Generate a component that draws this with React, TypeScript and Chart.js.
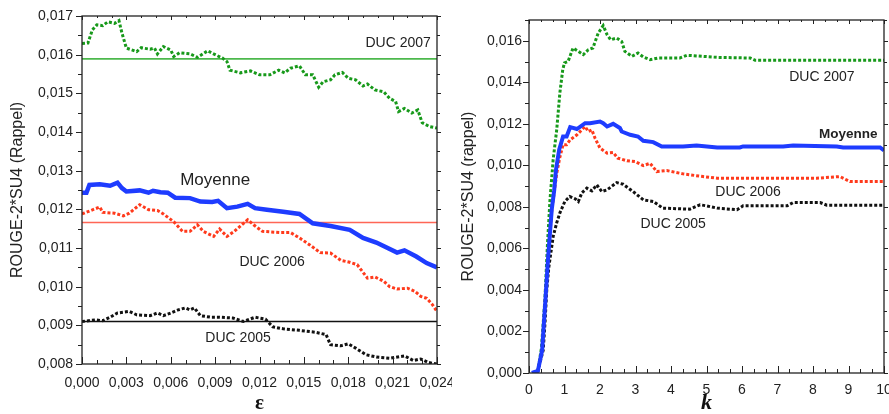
import React, { useEffect, useRef } from "react";
import { Chart, registerables } from "chart.js";

Chart.register(...registerables);

const SANS = '"Liberation Sans", Arial, Helvetica, sans-serif';
const SERIF = '"Liberation Serif", "DejaVu Serif", serif';

// ---------- Left chart (epsilon) ----------
const epsTicks = [0, 0.003, 0.006, 0.009, 0.012, 0.015, 0.018, 0.021, 0.024];
const leftYTicks = [0.008, 0.009, 0.01, 0.011, 0.012, 0.013, 0.014, 0.015, 0.016, 0.017];

const moyenneEps: [number, number][] = [
  [0, 0.01243], [0.0003, 0.01243], [0.0005, 0.01263], [0.0012, 0.01265], [0.0019, 0.01261],
  [0.0024, 0.01269], [0.0027, 0.01255], [0.003, 0.01246], [0.0039, 0.01249], [0.0045, 0.01243],
  [0.0048, 0.01248], [0.0053, 0.01244], [0.0058, 0.01243], [0.0063, 0.0123], [0.0073, 0.01229],
  [0.008, 0.0122], [0.0088, 0.01219], [0.0092, 0.01222], [0.0098, 0.01203], [0.0105, 0.01207],
  [0.0112, 0.01214], [0.0117, 0.01203], [0.0125, 0.01199], [0.0136, 0.01194], [0.0147, 0.01188],
  [0.0156, 0.01164], [0.0168, 0.01157], [0.0181, 0.01147], [0.019, 0.01126], [0.0199, 0.01114],
  [0.0213, 0.01088], [0.0218, 0.01094], [0.0226, 0.01078], [0.0233, 0.01061], [0.024, 0.0105],
];

const duc2007Eps: [number, number][] = [
  [0, 0.01629], [0.0004, 0.0163], [0.0007, 0.01664], [0.001, 0.01677], [0.0014, 0.01675],
  [0.00175, 0.01685], [0.0022, 0.01681], [0.0025, 0.01688], [0.0027, 0.01656], [0.003, 0.01617],
  [0.0037, 0.01608], [0.004, 0.01618], [0.0046, 0.01614], [0.0049, 0.01617], [0.0051, 0.01602],
  [0.0055, 0.01621], [0.006, 0.01612], [0.0062, 0.01595], [0.0066, 0.01605], [0.0073, 0.01602],
  [0.0078, 0.01593], [0.0085, 0.0161], [0.0089, 0.01602], [0.0095, 0.01591], [0.0098, 0.01582],
  [0.01, 0.0156], [0.0107, 0.01553], [0.0114, 0.01558], [0.012, 0.01548], [0.0127, 0.01548],
  [0.0133, 0.0156], [0.0137, 0.01553], [0.0141, 0.01565], [0.0147, 0.01571], [0.0151, 0.01548],
  [0.0156, 0.01548], [0.016, 0.01516], [0.0163, 0.0153], [0.0168, 0.01535], [0.0171, 0.01548],
  [0.0176, 0.01554], [0.018, 0.01539], [0.0185, 0.01535], [0.019, 0.01519], [0.0193, 0.01524],
  [0.0198, 0.01509], [0.0204, 0.01504], [0.0208, 0.01487], [0.0212, 0.01479], [0.0214, 0.01453],
  [0.0218, 0.01461], [0.0223, 0.01449], [0.0227, 0.01457], [0.023, 0.01424], [0.0235, 0.01414],
  [0.024, 0.0141],
];

const duc2006Eps: [number, number][] = [
  [0, 0.01188], [0.0004, 0.01194], [0.0012, 0.01206], [0.0014, 0.01192], [0.0022, 0.0119],
  [0.0028, 0.01183], [0.0032, 0.0119], [0.0039, 0.01212], [0.0045, 0.01199], [0.0051, 0.01197],
  [0.0055, 0.01188], [0.0062, 0.01168], [0.0068, 0.01143], [0.0073, 0.01143], [0.0078, 0.0116],
  [0.0082, 0.01143], [0.0089, 0.0113], [0.0093, 0.01149], [0.0098, 0.0113], [0.0103, 0.01143],
  [0.0112, 0.01173], [0.0116, 0.0116], [0.0122, 0.01143], [0.0134, 0.0114], [0.0141, 0.0114],
  [0.0147, 0.01126], [0.0154, 0.01108], [0.0161, 0.01088], [0.0168, 0.01087], [0.0175, 0.01068],
  [0.0181, 0.01063], [0.0186, 0.01057], [0.0193, 0.01022], [0.0198, 0.01025], [0.0204, 0.01014],
  [0.0208, 0.01], [0.0213, 0.00994], [0.022, 0.00996], [0.0225, 0.00988], [0.0229, 0.00975],
  [0.0233, 0.0097], [0.0237, 0.00953], [0.024, 0.00936],
];

const duc2005Eps: [number, number][] = [
  [0, 0.0091], [0.0009, 0.00914], [0.0014, 0.00912], [0.0019, 0.00921], [0.0024, 0.00932],
  [0.0032, 0.00936], [0.0037, 0.00927], [0.0046, 0.00925], [0.0051, 0.00932], [0.0055, 0.00925],
  [0.006, 0.00932], [0.0065, 0.0094], [0.007, 0.00945], [0.0073, 0.0094], [0.0076, 0.00945],
  [0.008, 0.00925], [0.0087, 0.00921], [0.0093, 0.00921], [0.0102, 0.00919], [0.0109, 0.0091],
  [0.0117, 0.00921], [0.0124, 0.00916], [0.0129, 0.00896], [0.0136, 0.00891], [0.0147, 0.00887],
  [0.0158, 0.00882], [0.0165, 0.00876], [0.0168, 0.0085], [0.0175, 0.00847], [0.018, 0.00852],
  [0.0185, 0.00841], [0.0192, 0.00824], [0.0199, 0.00818], [0.0208, 0.00815], [0.0218, 0.00821],
  [0.0224, 0.00809], [0.0229, 0.00813], [0.0234, 0.00804], [0.024, 0.008],
];

const baselineDuc2007 = 0.01589;
const baselineDuc2006 = 0.01166;
const baselineDuc2005 = 0.0091;

// ---------- Right chart (k) ----------
const kTicks = [0, 1, 2, 3, 4, 5, 6, 7, 8, 9, 10];
const rightYTicks = [0, 0.002, 0.004, 0.006, 0.008, 0.01, 0.012, 0.014, 0.016];

const moyenneK: [number, number][] = [
  [0.08, 0], [0.25, 0.0001], [0.37, 0.0011], [0.45, 0.0032], [0.54, 0.0056], [0.64, 0.00786],
  [0.71, 0.0088], [0.76, 0.00978], [0.85, 0.01075], [0.96, 0.01139], [1.06, 0.01139],
  [1.16, 0.01184], [1.35, 0.01175], [1.58, 0.01203], [1.72, 0.01203], [2.0, 0.01211],
  [2.09, 0.01203], [2.2, 0.01187], [2.37, 0.012], [2.56, 0.0118], [2.61, 0.01163],
  [2.85, 0.01147], [3.07, 0.01139], [3.22, 0.01118], [3.5, 0.01112], [3.74, 0.01091],
  [4.34, 0.01091], [4.72, 0.01096], [5.3, 0.01086], [5.94, 0.01086], [6.03, 0.01091],
  [7.16, 0.01091], [7.44, 0.01096], [8.67, 0.01091], [8.85, 0.01086], [9.89, 0.01086],
  [10, 0.01072],
];

const duc2007K: [number, number][] = [
  [0.1, 0], [0.25, 0.0001], [0.35, 0.0012], [0.45, 0.0036], [0.52, 0.0062], [0.59, 0.0083],
  [0.68, 0.01027], [0.78, 0.01171], [0.87, 0.0135], [0.95, 0.0146], [1.0, 0.01494],
  [1.1, 0.015], [1.24, 0.01565], [1.39, 0.01549], [1.53, 0.01533], [1.67, 0.01557],
  [1.8, 0.01565], [1.95, 0.01637], [2.09, 0.01673], [2.2, 0.01629], [2.3, 0.01605],
  [2.47, 0.01613], [2.61, 0.01597], [2.7, 0.01549], [2.9, 0.01525], [3.07, 0.01541],
  [3.22, 0.01522], [3.41, 0.01509], [3.64, 0.01517], [4.25, 0.01517], [4.45, 0.0153],
  [4.9, 0.01525], [5.3, 0.0152], [6.23, 0.01517], [6.37, 0.01506], [10, 0.01506],
];

const duc2006K: [number, number][] = [
  [0.1, 0], [0.25, 0.0001], [0.37, 0.0011], [0.45, 0.0032], [0.54, 0.0056], [0.64, 0.0078],
  [0.71, 0.0087], [0.78, 0.0096], [0.87, 0.0104], [0.96, 0.011], [1.06, 0.01099],
  [1.16, 0.01123], [1.35, 0.01147], [1.58, 0.01187], [1.67, 0.01163], [1.77, 0.01171],
  [1.86, 0.01131], [2.0, 0.01083], [2.2, 0.01059], [2.37, 0.01062], [2.5, 0.01035],
  [2.76, 0.01022], [2.99, 0.01018], [3.22, 0.00999], [3.41, 0.0101], [3.6, 0.0097],
  [3.88, 0.00975], [4.34, 0.00959], [4.9, 0.00946], [5.3, 0.00938], [8.1, 0.00938],
  [8.76, 0.00946], [9.04, 0.00922], [10, 0.00922],
];

const duc2005K: [number, number][] = [
  [0.1, 0], [0.25, 0.0001], [0.4, 0.0011], [0.45, 0.0024], [0.5, 0.004], [0.56, 0.00512],
  [0.68, 0.00657], [0.78, 0.00723], [0.87, 0.00771], [1.01, 0.00826], [1.15, 0.0085],
  [1.3, 0.00839], [1.39, 0.00826], [1.49, 0.00868], [1.63, 0.0089], [1.77, 0.00877],
  [1.91, 0.00906], [2.05, 0.00874], [2.2, 0.00882], [2.47, 0.00917], [2.65, 0.00909],
  [2.93, 0.00874], [3.22, 0.00834], [3.5, 0.00826], [3.77, 0.00794], [4.53, 0.00789],
  [4.82, 0.0081], [5.0, 0.00805], [5.3, 0.00794], [5.86, 0.00786], [6.03, 0.00805],
  [7.27, 0.00805], [7.44, 0.00821], [8.2, 0.00821], [8.39, 0.00808], [10, 0.00808],
];

// series label anchors (in data coordinates)
const leftLabels: { text: string; at: [number, number]; bold?: boolean; size: number }[] = [
  { text: "DUC 2007", at: [0.02137, 0.0163], size: 14 },
  { text: "Moyenne", at: [0.009, 0.01276], size: 17 },
  { text: "DUC 2006", at: [0.01285, 0.010644], size: 14 },
  { text: "DUC 2005", at: [0.01055, 0.00868], size: 14 },
];
const rightLabels: { text: string; at: [number, number]; bold?: boolean; size: number }[] = [
  { text: "DUC 2007", at: [8.25, 0.01427], size: 14 },
  { text: "Moyenne", at: [8.99, 0.01152], size: 13.5, bold: true },
  { text: "DUC 2006", at: [6.17, 0.00872], size: 14 },
  { text: "DUC 2005", at: [4.06, 0.00718], size: 14 },
];

const GREEN = "#17991a";
const GREEN_LINE = "#4cb84c";
const RED = "#ff3a1c";
const RED_LINE = "#ff6656";
const BLUE = "#1e3cff";
const BLACK = "#111111";
const TEXT = "#222222";

const toXY = (pts: [number, number][]) => pts.map(([x, y]) => ({ x, y }));
const fmt3 = (v: number | string) => Number(v).toFixed(3).replace(".", ",");

type TickSpec = {
  yMinor: number; yPerMajor: number;
  xMinor: number; xPerMajor: number;
};

function frameTicksPlugin(spec: TickSpec) {
  return {
    id: "frameTicks",
    afterDatasetsDraw(chart: any) {
      const { ctx, chartArea: a, scales } = chart;
      const xs = scales.x;
      const ys = scales.y;
      ctx.save();
      ctx.strokeStyle = "#222";
      ctx.lineWidth = 1.3;
      ctx.strokeRect(a.left, a.top, a.right - a.left, a.bottom - a.top);
      ctx.lineWidth = 1;
      ctx.beginPath();
      const ny = Math.round((ys.max - ys.min) / spec.yMinor);
      for (let i = 0; i <= ny; i++) {
        const v = ys.min + i * spec.yMinor;
        const py = Math.round(ys.getPixelForValue(v)) + 0.5;
        const major = i % spec.yPerMajor === 0;
        const outL = major ? 6 : 4;
        const outR = major ? 4 : 3;
        ctx.moveTo(a.left - outL, py);
        ctx.lineTo(a.left, py);
        ctx.moveTo(a.right, py);
        ctx.lineTo(a.right + outR, py);
      }
      const nx = Math.round((xs.max - xs.min) / spec.xMinor);
      for (let i = 0; i <= nx; i++) {
        const v = xs.min + i * spec.xMinor;
        const px = Math.round(xs.getPixelForValue(v)) + 0.5;
        const major = i % spec.xPerMajor === 0;
        const inB = major ? 7 : 4;
        const inT = major ? 4 : 2;
        ctx.moveTo(px, a.bottom);
        ctx.lineTo(px, a.bottom - inB);
        ctx.moveTo(px, a.top);
        ctx.lineTo(px, a.top + inT);
      }
      ctx.stroke();
      ctx.restore();
    },
  };
}

function seriesLabelsPlugin(labels: { text: string; at: [number, number]; bold?: boolean; size: number }[]) {
  return {
    id: "seriesLabels",
    afterDatasetsDraw(chart: any) {
      const { ctx, scales } = chart;
      ctx.save();
      ctx.fillStyle = TEXT;
      ctx.textAlign = "center";
      ctx.textBaseline = "middle";
      for (const l of labels) {
        ctx.font = `${l.bold ? "bold " : ""}${l.size}px ${SANS}`;
        ctx.fillText(l.text, scales.x.getPixelForValue(l.at[0]), scales.y.getPixelForValue(l.at[1]));
      }
      ctx.restore();
    },
  };
}

function dotted(label: string, pts: [number, number][], color: string) {
  return {
    label,
    data: toXY(pts),
    borderColor: color,
    borderWidth: 3,
    borderDash: [3, 2],
    pointRadius: 0,
    tension: 0,
    fill: false,
  };
}

function hline(label: string, value: number, x0: number, x1: number, color: string) {
  return {
    label,
    data: [{ x: x0, y: value }, { x: x1, y: value }],
    borderColor: color,
    borderWidth: 1.6,
    pointRadius: 0,
    fill: false,
  };
}

function leftConfig(): any {
  return {
    type: "line",
    data: {
      datasets: [
        { label: "Moyenne", data: toXY(moyenneEps), borderColor: BLUE, borderWidth: 4.5, pointRadius: 0, fill: false },
        dotted("DUC 2006", duc2006Eps, RED),
        dotted("DUC 2005", duc2005Eps, BLACK),
        dotted("DUC 2007", duc2007Eps, GREEN),
        hline("DUC 2007 ref", baselineDuc2007, 0, 0.024, GREEN_LINE),
        hline("DUC 2006 ref", baselineDuc2006, 0, 0.024, RED_LINE),
        hline("DUC 2005 ref", baselineDuc2005, 0, 0.024, BLACK),
      ],
    },
    options: {
      responsive: false,
      animation: false,
      events: [],
      layout: { padding: { left: 0, right: 15, top: 16, bottom: 0 } },
      plugins: { legend: { display: false }, tooltip: { enabled: false } },
      scales: {
        x: {
          type: "linear",
          min: 0,
          max: 0.024,
          afterBuildTicks: (s: any) => { s.ticks = epsTicks.map((v) => ({ value: v })); },
          afterFit: (s: any) => { s.height = 50; s.paddingLeft = 0; s.paddingRight = 0; },
          grid: { display: false, drawTicks: false },
          border: { display: false },
          ticks: { padding: 11, autoSkip: false, maxRotation: 0, color: TEXT, font: { family: SANS, size: 14 }, callback: fmt3 },
          title: { display: true, text: "ε", color: "#111", padding: 0, font: { family: SERIF, size: 21, weight: "bold", lineHeight: 1 } },
        },
        y: {
          type: "linear",
          min: 0.008,
          max: 0.017,
          afterBuildTicks: (s: any) => { s.ticks = leftYTicks.map((v) => ({ value: v })); },
          afterFit: (s: any) => { s.width = 82; s.paddingTop = 0; s.paddingBottom = 0; },
          grid: { display: false, drawTicks: false },
          border: { display: false },
          ticks: { padding: 9, color: TEXT, font: { family: SANS, size: 14 }, callback: fmt3 },
          title: { display: true, text: "ROUGE-2*SU4 (Rappel)", color: TEXT, padding: { top: 8, bottom: 0 }, font: { family: SANS, size: 16 } },
        },
      },
    },
    plugins: [
      frameTicksPlugin({ yMinor: 0.0005, yPerMajor: 2, xMinor: 0.001, xPerMajor: 3 }),
      seriesLabelsPlugin(leftLabels),
    ],
  };
}

function rightConfig(): any {
  return {
    type: "line",
    data: {
      datasets: [
        { label: "Moyenne", data: toXY(moyenneK), borderColor: BLUE, borderWidth: 4, pointRadius: 0, fill: false },
        dotted("DUC 2006", duc2006K, RED),
        dotted("DUC 2005", duc2005K, BLACK),
        dotted("DUC 2007", duc2007K, GREEN),
      ],
    },
    options: {
      responsive: false,
      animation: false,
      events: [],
      layout: { padding: { left: 0, right: 5, top: 20, bottom: 0 } },
      plugins: { legend: { display: false }, tooltip: { enabled: false } },
      scales: {
        x: {
          type: "linear",
          min: 0,
          max: 10,
          afterBuildTicks: (s: any) => { s.ticks = kTicks.map((v) => ({ value: v })); },
          afterFit: (s: any) => { s.height = 41; s.paddingLeft = 0; s.paddingRight = 0; },
          grid: { display: false, drawTicks: false },
          border: { display: false },
          ticks: { padding: 9, autoSkip: false, maxRotation: 0, color: TEXT, font: { family: SANS, size: 14 }, callback: (v: any) => String(v) },
          title: { display: true, text: "k", color: "#111", padding: 0, font: { family: SERIF, size: 22, weight: "bold", style: "italic", lineHeight: 1 } },
        },
        y: {
          type: "linear",
          min: 0,
          max: 0.017,
          afterBuildTicks: (s: any) => { s.ticks = rightYTicks.map((v) => ({ value: v })); },
          afterFit: (s: any) => { s.width = 77; s.paddingTop = 0; s.paddingBottom = 0; },
          grid: { display: false, drawTicks: false },
          border: { display: false },
          ticks: { padding: 7, color: TEXT, font: { family: SANS, size: 14 }, callback: fmt3 },
          title: { display: true, text: "ROUGE-2*SU4 (rappel)", color: TEXT, padding: { top: 7, bottom: 0 }, font: { family: SANS, size: 16 } },
        },
      },
    },
    plugins: [
      frameTicksPlugin({ yMinor: 0.001, yPerMajor: 2, xMinor: 1 / 3, xPerMajor: 3 }),
      seriesLabelsPlugin(rightLabels),
    ],
  };
}

function ChartCanvas({ width, height, makeConfig }: { width: number; height: number; makeConfig: () => any }) {
  const ref = useRef<HTMLCanvasElement | null>(null);
  useEffect(() => {
    if (!ref.current) return;
    const chart = new Chart(ref.current, makeConfig());
    return () => chart.destroy();
  }, [makeConfig]);
  return <canvas ref={ref} width={width} height={height} style={{ width, height, display: "block" }} />;
}

export default function App() {
  return (
    <div style={{ position: "fixed", left: 0, top: 0, width: 889, height: 414, background: "#fff", overflow: "hidden" }}>
      <div style={{ position: "absolute", left: 0, top: 0 }}>
        <ChartCanvas width={452} height={414} makeConfig={leftConfig} />
      </div>
      <div style={{ position: "absolute", left: 452, top: 0 }}>
        <ChartCanvas width={437} height={414} makeConfig={rightConfig} />
      </div>
    </div>
  );
}
